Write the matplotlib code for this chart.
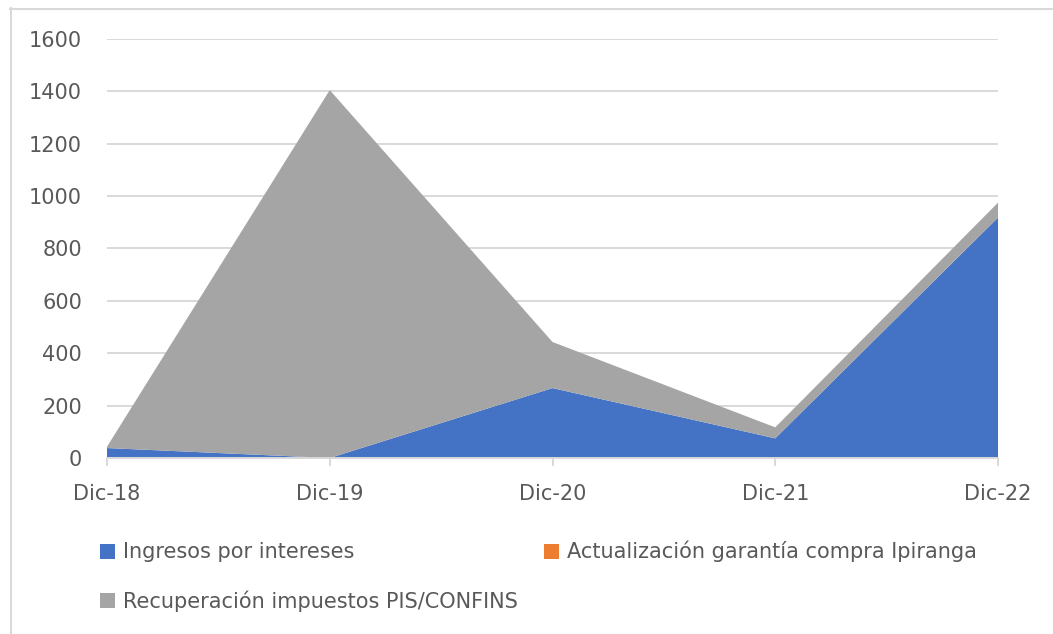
import matplotlib
matplotlib.use("Agg")
import matplotlib.pyplot as plt
from matplotlib.patches import Patch
from matplotlib.lines import Line2D
import numpy as np

categories = ["Dic-18", "Dic-19", "Dic-20", "Dic-21", "Dic-22"]
ingresos_intereses = [38, 0, 267, 75, 918]
actualizacion_garantia = [0, 0, 0, 0, 0]
recuperacion_impuestos = [5, 1405, 176, 42, 57]
series_names = ["Ingresos por intereses",
                "Actualización garantía compra Ipiranga",
                "Recuperación impuestos PIS/CONFINS"]
colors = ["#4472C4", "#ED7D31", "#A5A5A5"]
yticks = [0, 200, 400, 600, 800, 1000, 1200, 1400, 1600]

plt.rcParams['font.family'] = ['DejaVu Sans']

W, H = 1053, 634
FS = 15
fig = plt.figure(figsize=(W / 100, H / 100), dpi=100)
ax = fig.add_axes([107 / W, 1 - 458 / H, (998 - 107) / W, (458 - 39) / H])

x = np.arange(len(categories))
ax.stackplot(x, ingresos_intereses, actualizacion_garantia, recuperacion_impuestos,
             colors=colors, labels=series_names, linewidth=0, zorder=3)

ax.set_xlim(0, len(categories) - 1)
ax.set_ylim(0, 1600)
ax.set_yticks(yticks)
ax.set_xticks(x)
ax.set_xticklabels(categories)
ax.grid(axis='y', color='#D9D9D9', linewidth=1.4, zorder=0)
ax.set_axisbelow(True)
for s in ['top', 'right', 'left']:
    ax.spines[s].set_visible(False)
ax.spines['bottom'].set_color('#D9D9D9')
ax.spines['bottom'].set_linewidth(1.4)
ax.spines['bottom'].set_zorder(4)
ax.tick_params(axis='y', length=0, pad=18, labelsize=FS, labelcolor='#595959')
ax.tick_params(axis='x', length=6, width=1.4, color='#D9D9D9', pad=13,
               labelsize=FS, labelcolor='#595959')

# outer chart frame
fig.add_artist(Line2D([10.5 / W, 10.5 / W], [0, 1 - 8 / H], color='#D9D9D9', linewidth=1.5,
                      transform=fig.transFigure))
fig.add_artist(Line2D([10 / W, 1], [1 - 8.5 / H, 1 - 8.5 / H], color='#D9D9D9', linewidth=1.5,
                      transform=fig.transFigure))

handles = [Patch(facecolor=colors[0]), Patch(facecolor=colors[2]), Patch(facecolor=colors[1])]
labels = [series_names[0], series_names[2], series_names[1]]
leg = fig.legend(handles, labels, ncol=2, loc='upper left',
                 bbox_to_anchor=(100 / W, 1 - 541 / H), frameon=False,
                 fontsize=FS, labelcolor='#595959',
                 handlelength=0.72, handleheight=0.72, handletextpad=0.38,
                 columnspacing=1.25, labelspacing=1.32, borderpad=0, borderaxespad=0)

fig.savefig("out.png", dpi=100)
